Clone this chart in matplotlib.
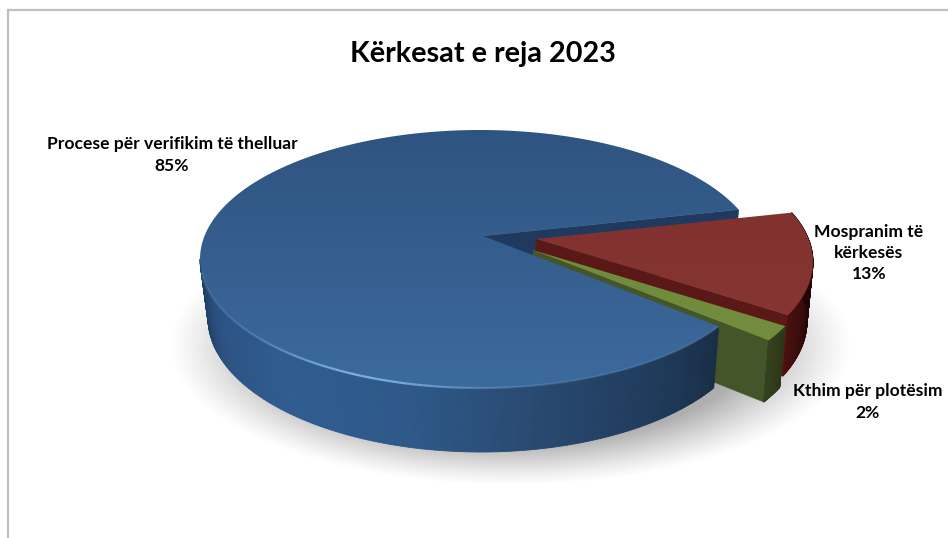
import numpy as np
import matplotlib
matplotlib.use("Agg")
import matplotlib.pyplot as plt
from matplotlib.collections import PolyCollection, LineCollection
from matplotlib.colors import LinearSegmentedColormap, to_rgb
from matplotlib.patches import Polygon

title = "Kërkesat e reja 2023"
categories = ["Procese për verifikim të thelluar", "Mospranim të\nkërkesës", "Kthim për plotësim"]
values = [85, 13, 2]
top_colors = [("#2e5380", "#3d6b9e"), ("#7c302e", "#8a3733"), ("#6b8738", "#748f3e")]
radial_colors = ["#1f3a5e", "#5a1816", "#45552a"]
label_xy = [(172, 155), (869, 253), (868, 402)]

CX, CY, RX, RY = 480, 259, 280, 129
APEX = (483, 236)
OFFSETS = [(0, 0), (53, 3), (50, 14)]
START = 22.5

fig = plt.figure(figsize=(9.48, 5.38), dpi=100)
ax = fig.add_axes([0, 0, 1, 1])
ax.set_axis_off()


def rim(t, off=(0, 0)):
    r = np.radians(t)
    return np.column_stack([CX + RX * np.cos(r) + off[0], CY - RY * np.sin(r) + off[1]])


def base(t, off=(0, 0)):
    r = np.radians(t)
    depth = 59 - 5 * np.sin(r)
    return np.column_stack([CX + RX * 0.975 * np.cos(r) + off[0] + 1,
                            CY - RY * np.sin(r) + depth + off[1]])


def wall(t0, t1, stops, off, z=3):
    ts = np.linspace(t0, t1, 160)
    a, b = rim(ts, off), base(ts, off)
    polys, cols = [], []
    st, sc = zip(*stops)
    sc = np.array([to_rgb(c) for c in sc])
    for i in range(len(ts) - 1):
        polys.append([a[i], a[i + 1], b[i + 1], b[i]])
        tm = (ts[i] + ts[i + 1]) / 2
        cols.append([np.interp(tm, st, sc[:, k]) for k in range(3)])
    ax.add_collection(PolyCollection(polys, facecolors=cols, edgecolors=cols, linewidths=0.6, zorder=z))


def top_face(t0, t1, off, colors, z=5):
    ts = np.linspace(t0, t1, 300)
    pts = np.vstack([[APEX[0] + off[0], APEX[1] + off[1]], rim(ts, off)])
    cmap = LinearSegmentedColormap.from_list("g", colors)
    im = ax.imshow(np.linspace(0, 1, 256)[:, None], cmap=cmap, aspect="auto",
                   extent=[0, 948, 400, 120], zorder=z, interpolation="bilinear")
    poly = Polygon(pts, closed=True, transform=ax.transData, facecolor="none", edgecolor="none")
    ax.add_patch(poly)
    im.set_clip_path(poly)


def radial_face(t, off, color, z=3):
    p = rim(np.array([t]), off)[0]
    q = base(np.array([t]), off)[0]
    ax_, ay_ = APEX[0] + off[0], APEX[1] + off[1]
    ax.add_patch(Polygon([(ax_, ay_), p, q, (ax_, ay_ + 60)], closed=True,
                         facecolor=color, edgecolor=color, lw=0.4, zorder=z))


# ground shadow
yy, xx = np.mgrid[0:538, 0:948]
rr = np.sqrt(((xx - 510) / 342.0) ** 2 + ((yy - 345) / 140.0) ** 2)
alpha = np.clip((1 - rr) / 0.30, 0, 1) ** 1.2 * 0.42
rgba = np.zeros((538, 948, 4))
rgba[..., :3] = 0.25
rgba[..., 3] = alpha
ax.imshow(rgba, extent=[0, 948, 538, 0], aspect="auto", zorder=1)

# slice angles come from the values
total = float(sum(values))
sweeps = [v / total * 360 for v in values]
b0, b1 = START, START + sweeps[0]      # blue
g0, g1 = b1, b1 + sweeps[2]            # green follows blue on screen
r0, r1 = g1, g1 + sweeps[1]            # red closes the circle

# blue notch face
radial_face(b0, OFFSETS[0], radial_colors[0], z=2)

# red slice
radial_face(r0, OFFSETS[1], radial_colors[1], z=3)
wall(r0, r1, [(r0, "#4a1210"), (r0 + 22, "#250605"), (r1, "#1c0504")], OFFSETS[1], z=3)
top_face(r0, r1, OFFSETS[1], top_colors[1], z=5)

# green slice
radial_face(g0, OFFSETS[2], radial_colors[2], z=5.1)
wall(g0, g1, [(g0, "#36431f"), (g1, "#2c3719")], OFFSETS[2], z=5.15)
top_face(g0, g1, OFFSETS[2], top_colors[2], z=5.2)

# blue slice
wall(180, b1, [(180, "#1b3553"), (200, "#2b5180"), (225, "#305c90"), (255, "#2e5989"),
               (280, "#294a72"), (310, "#1f3a5a"), (b1, "#1a2e47")], OFFSETS[0], z=5.3)
top_face(b0, b1, OFFSETS[0], top_colors[0], z=5.4)

# bevel highlight on the blue rim
ts = np.linspace(186, b1, 200)
p = rim(ts)
segs = [[p[i], p[i + 1]] for i in range(len(ts) - 1)]
tm = (ts[:-1] + ts[1:]) / 2
a = np.clip(np.exp(-((tm - 245) / 22) ** 2) * 0.8 + 0.18, 0, 1)
ax.add_collection(LineCollection(segs, colors=[(0.50, 0.70, 0.90, v) for v in a], linewidths=1.6, zorder=7))

# chart frame
ax.plot([8, 8, 948], [538, 10, 10], color="#c0c0c0", lw=1.6, zorder=8, solid_joinstyle="miter")

font = ["Lato", "DejaVu Sans"]
ax.text(483, 54, title, ha="center", va="center", fontsize=20.7, fontweight="bold",
        family=font, color="black", zorder=10)
for name, v, (x, y) in zip(categories, values, label_xy):
    ax.text(x, y, f"{name}\n{v}%", ha="center", va="center", fontsize=12.6, fontweight="bold",
            family=font, color="black", linespacing=1.42, zorder=10)

ax.set_xlim(0, 948)
ax.set_ylim(538, 0)
fig.savefig("out.png", dpi=100, facecolor="white")
